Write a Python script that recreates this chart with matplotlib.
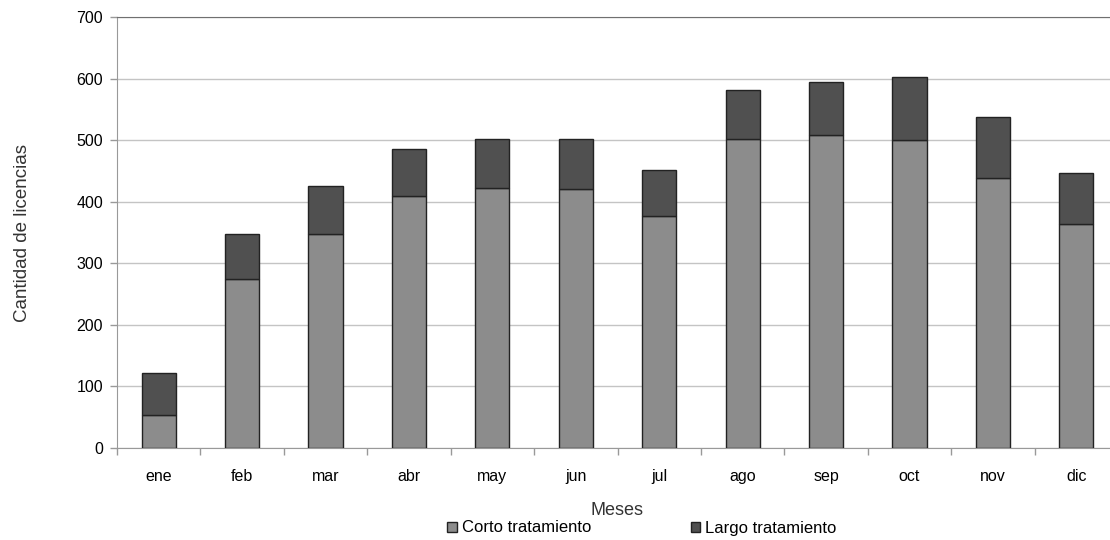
import numpy as np
import matplotlib.pyplot as plt
from matplotlib.patches import Patch

plt.rcParams['font.family'] = ['Liberation Sans', 'DejaVu Sans']

# --- Data ---
meses = ['ene', 'feb', 'mar', 'abr', 'may', 'jun', 'jul', 'ago', 'sep', 'oct', 'nov', 'dic']
corto = [53, 275, 347, 410, 423, 420, 377, 502, 508, 500, 439, 364]
total = [122, 347, 425, 485, 502, 502, 451, 581, 595, 602, 537, 447]
largo = [t - c for t, c in zip(total, corto)]

c_corto = '#8c8c8c'
c_largo = '#505050'

fig = plt.figure(figsize=(11.1, 5.4), dpi=100)
ax = fig.add_axes([117/1110, 92/540, 1001/1110, 431/540])

x = np.arange(len(meses))
w = 0.41
ax.bar(x, corto, w, color=c_corto, edgecolor='#222222', linewidth=1.0, zorder=3)
ax.bar(x, largo, w, bottom=corto, color=c_largo, edgecolor='#222222', linewidth=1.0, zorder=3)

ax.set_xlim(-0.5, len(meses) - 0.5)
ax.set_ylim(0, 700)
ax.set_yticks(range(0, 701, 100))
ax.yaxis.grid(True, color='#c4c4c4', linewidth=1.0, zorder=0)

# category labels centred, tick marks between categories
ax.set_xticks(x)
ax.set_xticklabels(meses, fontsize=11.5)
ax.set_xticks(np.arange(-0.5, len(meses)), minor=True)
ax.tick_params(axis='x', which='major', length=0, pad=15)
ax.tick_params(axis='x', which='minor', length=5, color='#999999', width=1)
ax.tick_params(axis='y', length=5, color='#999999', width=1, labelsize=11.5, pad=5)

for s in ['left', 'bottom']:
    ax.spines[s].set_color('#999999')
ax.spines['top'].set_color('#707070')
ax.spines['right'].set_visible(False)

ax.set_xlabel('Meses', fontsize=13, color='#333333', labelpad=13)
ax.set_ylabel('Cantidad de licencias', fontsize=13.5, color='#333333', labelpad=33)

handles = [Patch(facecolor=c_corto, edgecolor='#222222', label='Corto tratamiento'),
           Patch(facecolor=c_largo, edgecolor='#222222', label='Largo tratamiento')]
fig.legend(handles=handles, loc='center', bbox_to_anchor=(642/1110, 1 - 528/540),
           ncol=2, frameon=False, fontsize=12, handlelength=0.55, handleheight=0.55,
           handletextpad=0.3, columnspacing=6.0)

fig.savefig('out.png', dpi=100)
